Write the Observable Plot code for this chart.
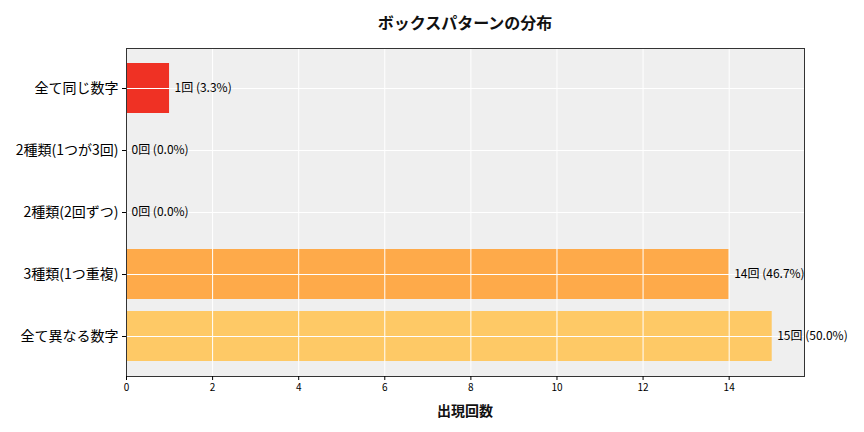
<!DOCTYPE html>
<html><head><meta charset="utf-8">
<script src="https://cdn.jsdelivr.net/npm/d3@7"></script>
<script src="https://cdn.jsdelivr.net/npm/@observablehq/plot@0.6"></script>
<style>
html,body{margin:0;padding:0;background:#fff;}
body{font-family:"Noto Sans CJK JP","Noto Sans",sans-serif;width:864px;height:432px;position:relative;overflow:hidden;}
#title{height:40px;position:relative;}
#title span{position:absolute;left:465px;top:22px;transform:translate(-50%,-50%);font-size:16px;font-weight:bold;color:#111;white-space:nowrap;}
#xlabel{position:absolute;left:465px;top:410px;transform:translate(-50%,-50%);font-size:14px;font-weight:bold;color:#111;white-space:nowrap;}
#chart svg{display:block;}
</style>
</head><body>
<div id="title"><span>ボックスパターンの分布</span></div>
<div id="chart"></div>
<div id="xlabel">出現回数</div>
<script>
const categories = ["全て同じ数字","2種類(1つが3回)","2種類(2回ずつ)","3種類(1つ重複)","全て異なる数字"];
const counts = [1, 0, 0, 14, 15];
const barColors = ["#ef3124", "#f7782f", "#fb9140", "#feaa4a", "#fec966"];
const xTicks = [0, 2, 4, 6, 8, 10, 12, 14];
const total = d3.sum(counts);

const data = categories.map((c, i) => ({
  cat: c,
  count: counts[i],
  color: barColors[i],
  label: `${counts[i]}回 (${(counts[i] / total * 100).toFixed(1)}%)`
}));

const plot = Plot.plot({
  width: 864,
  height: 392,
  marginTop: 8,
  marginBottom: 56,
  marginLeft: 126,
  marginRight: 60,
  style: {fontFamily: '"Noto Sans CJK JP","Noto Sans",sans-serif', background: "#fff", color: "#000"},
  x: {domain: [0, 15.75], label: null},
  y: {domain: categories, paddingInner: 0.2, paddingOuter: 0.24, label: null},
  color: {type: "identity"},
  marks: [
    Plot.frame({fill: "#efefef", stroke: null}),
    Plot.barX(data, {y: "cat", x: "count", fill: "color"}),
    Plot.gridX(xTicks, {stroke: "#fff", strokeOpacity: 1, strokeWidth: 1}),
    Plot.gridY(categories, {stroke: "#fff", strokeOpacity: 1, strokeWidth: 1}),
    Plot.frame({stroke: "#333", strokeWidth: 1}),
    Plot.text(data, {y: "cat", x: "count", text: "label", dx: 5, textAnchor: "start", fontSize: 12, fill: "#000"}),
    Plot.axisX(xTicks, {tickSize: 4, tickPadding: 3, fontSize: 10, label: null, tickFormat: d => String(d)}),
    Plot.axisY(categories, {tickSize: 4, tickPadding: 4, fontSize: 14, fill: "#000", label: null})
  ]
});
document.getElementById("chart").appendChild(plot);
</script>
</body></html>
